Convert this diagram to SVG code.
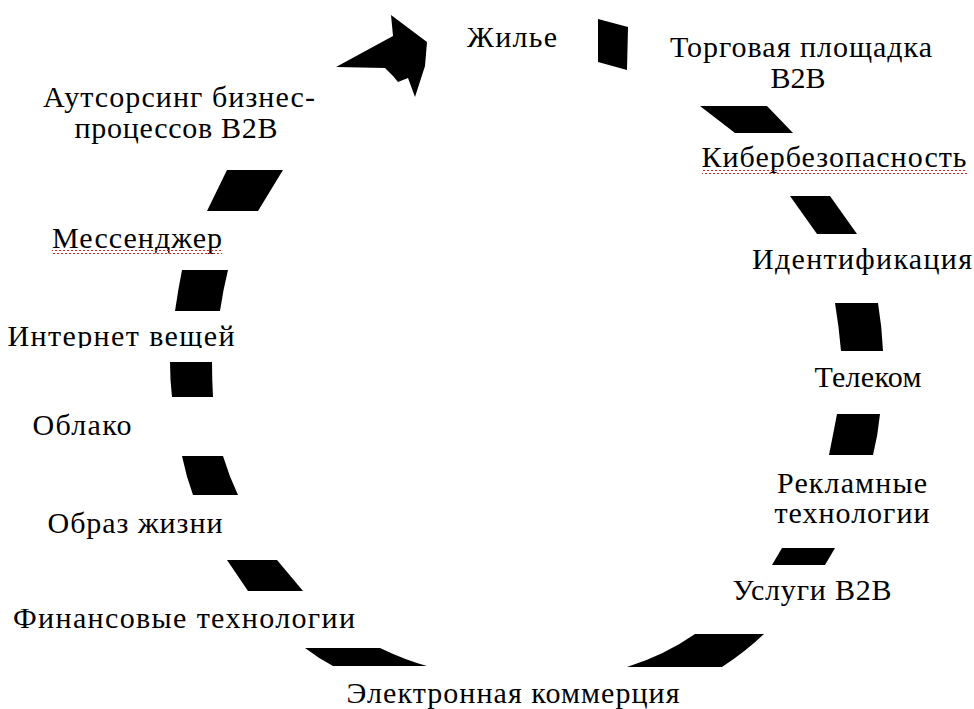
<svg xmlns="http://www.w3.org/2000/svg" width="974" height="709" viewBox="0 0 974 709">
<style>
  .lbl { font-family: "Liberation Serif", "Times New Roman", serif; font-size: 30px; fill: #000; text-anchor: middle; }
  .seg { fill: #000; stroke: none; }
</style>
<defs>
  <pattern id="wave" x="0" y="0" width="4" height="4" patternUnits="userSpaceOnUse">
    <path d="M0,3 L2,1 L4,3" stroke="#e02020" stroke-width="1" fill="none"/>
  </pattern>
  <clipPath id="clipIoT"><rect x="0" y="300" width="300" height="48"/></clipPath>
</defs>
<rect width="974" height="709" fill="#fff"/>
<g id="connectors">
  <polygon class="seg" points="598,19 628,27 627,70 598,62"/>
  <polygon class="seg" points="700,106 767,106 793,133 735,133"/>
  <polygon class="seg" points="790,196 830,196 857,234 817,234"/>
  <path class="seg" d="M835,303 L878,303 Q882,327 883,351 L841,351 Q839,327 835,303 Z"/>
  <path class="seg" d="M837,414 L880,414 Q878,435 873,455 L829,455 Q833,435 837,414 Z"/>
  <polygon class="seg" points="782,548 835,548 825,565 772,565"/>
  <path class="seg" d="M627,667 Q665,655 695,634 L764,634 Q745,652 722,667 Z"/>
  <path class="seg" d="M305,648 L380,648 Q405,660 427,666 L333,666 Q318,658 305,648 Z"/>
  <polygon class="seg" points="227,560 277,560 303,591 248,591"/>
  <path class="seg" d="M182,456 L223,456 Q229,476 238,495 L193,495 Q186,476 182,456 Z"/>
  <path class="seg" d="M170,362 L212,362 Q212,380 213,397 L172,397 Q170,380 170,362 Z"/>
  <path class="seg" d="M182,270 L228,270 Q223,290 220,311 L175,311 Q178,290 182,270 Z"/>
  <polygon class="seg" points="227,170 283,170 258,211 207,211"/>
  <path class="seg" d="M336,67 L393,36 L391,15 L427,42 L425,66 L415,97 L408,78 L398,82 L393,76 L385,68 Z"/>
</g>
<g id="node-zhilye"><text class="lbl" x="512" y="47" textLength="90">Жилье</text></g>
<g id="node-torg"><text class="lbl" x="801" y="57" textLength="262">Торговая площадка</text><text class="lbl" x="798" y="88" textLength="55">B2B</text></g>
<g id="node-kiber"><text class="lbl" x="834" y="167" textLength="265">Кибербезопасность</text><rect x="702" y="170" width="265" height="4" fill="url(#wave)"/></g>
<g id="node-ident"><text class="lbl" x="862" y="269" textLength="220">Идентификация</text></g>
<g id="node-telecom"><text class="lbl" x="868" y="387" textLength="107">Телеком</text></g>
<g id="node-reklam"><text class="lbl" x="852" y="493" textLength="150">Рекламные</text><text class="lbl" x="852" y="523" textLength="155">технологии</text></g>
<g id="node-uslugi"><text class="lbl" x="812" y="600" textLength="159">Услуги B2B</text></g>
<g id="node-ecom"><text class="lbl" x="513" y="703" textLength="333">Электронная коммерция</text></g>
<g id="node-fintech"><text class="lbl" x="184" y="628" textLength="342">Финансовые технологии</text></g>
<g id="node-lifestyle"><text class="lbl" x="135" y="533" textLength="175">Образ жизни</text></g>
<g id="node-cloud"><text class="lbl" x="82" y="435" textLength="99">Облако</text></g>
<g id="node-iot"><text class="lbl" x="121" y="346" textLength="227" clip-path="url(#clipIoT)">Интернет вещей</text></g>
<g id="node-messenger"><text class="lbl" x="137" y="248" textLength="170">Мессенджер</text><rect x="52" y="250" width="170" height="4" fill="url(#wave)"/></g>
<g id="node-outsourcing"><text class="lbl" x="179" y="107" textLength="272">Аутсорсинг бизнес-</text><text class="lbl" x="176" y="138" textLength="203">процессов B2B</text></g>
</svg>
